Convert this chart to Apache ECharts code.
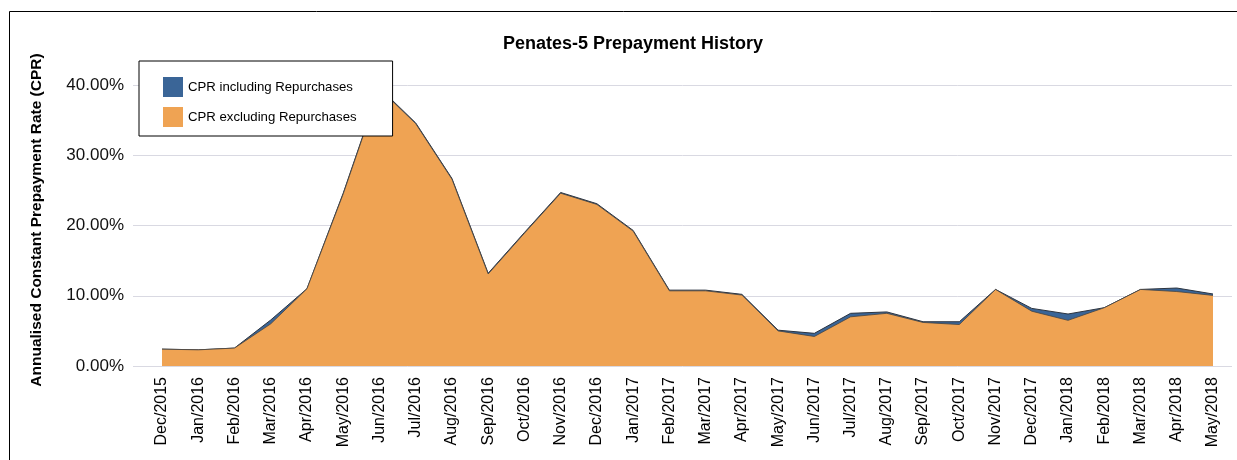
<!DOCTYPE html>
<html>
<head>
<meta charset="utf-8">
<script src="https://cdn.jsdelivr.net/npm/echarts@6/dist/echarts.min.js"></script>
<style>
html,body{margin:0;padding:0;background:#fff;}
#chart{width:1237px;height:460px;}
</style>
</head>
<body>
<div id="chart"></div>
<script>
const categories = ["Dec/2015","Jan/2016","Feb/2016","Mar/2016","Apr/2016","May/2016","Jun/2016","Jul/2016","Aug/2016","Sep/2016","Oct/2016","Nov/2016","Dec/2016","Jan/2017","Feb/2017","Mar/2017","Apr/2017","May/2017","Jun/2017","Jul/2017","Aug/2017","Sep/2017","Oct/2017","Nov/2017","Dec/2017","Jan/2018","Feb/2018","Mar/2018","Apr/2018","May/2018"];
const cprIncluding = [2.4,2.3,2.55,6.55,11.0,24.6,39.6,34.6,26.7,13.2,19.0,24.7,23.1,19.3,10.8,10.8,10.2,5.1,4.65,7.5,7.7,6.3,6.3,10.9,8.2,7.4,8.3,10.9,11.1,10.25];
const cprExcluding = [2.4,2.3,2.55,6.0,11.0,24.5,39.5,34.5,26.6,13.1,18.9,24.6,23.0,19.2,10.7,10.7,10.1,5.0,4.2,7.0,7.5,6.2,5.9,10.9,7.8,6.5,8.3,10.9,10.6,10.05];
const yTicks = [0,10,20,30,40];
const seriesNames = ["CPR including Repurchases","CPR excluding Repurchases"];

const FONT = "'Liberation Sans', Arial, sans-serif";
const BLUE = "#3a6597";
const ORANGE = "#efa353";
const OUTLINE = "#2c3440";

const chart = echarts.init(document.getElementById('chart'));
chart.setOption({
  animation: false,
  backgroundColor: '#fff',
  title: {
    text: 'Penates-5 Prepayment History',
    left: 628, top: 30, textAlign: 'center',
    textStyle: {fontFamily: FONT, fontSize: 18, fontWeight: 'bold', color: '#000'}
  },
  legend: {
    orient: 'vertical',
    left: 139, top: 61,
    padding: [16, 36, 9, 24],
    itemWidth: 20, itemHeight: 20, itemGap: 10,
    icon: 'rect',
    backgroundColor: '#fff',
    borderColor: '#000', borderWidth: 1,
    z: 10,
    textStyle: {fontFamily: FONT, fontSize: 13.2, color: '#000'},
    data: [
      {name: seriesNames[0], itemStyle: {color: BLUE, borderWidth: 0}},
      {name: seriesNames[1], itemStyle: {color: ORANGE, borderWidth: 0}}
    ]
  },
  graphic: [{
    type: 'rect', silent: true, z: 100,
    shape: {x: 9.5, y: 11.5, width: 1240, height: 470},
    style: {fill: 'none', stroke: '#000', lineWidth: 1}
  }],
  grid: [
    {left: 133, right: 5, top: 85, bottom: 94},
    {left: 162, right: 24, top: 85, bottom: 94}
  ],
  xAxis: [
    {gridIndex: 0, type: 'category', data: categories, show: false},
    {gridIndex: 1, type: 'category', data: categories, boundaryGap: false,
     axisLine: {show: false}, axisTick: {show: false},
     axisLabel: {interval: 0, rotate: 90, margin: 11, fontFamily: FONT, fontSize: 16, color: '#000'}}
  ],
  yAxis: [
    {gridIndex: 0, type: 'value', min: yTicks[0], max: yTicks[yTicks.length-1], interval: 10,
     axisLine: {show: false}, axisTick: {show: false},
     splitLine: {show: true, lineStyle: {color: '#d9d9e2', width: 1}},
     axisLabel: {margin: 9, fontFamily: FONT, fontSize: 17, color: '#111',
       formatter: v => v.toFixed(2) + '%'},
     name: 'Annualised Constant Prepayment Rate (CPR)',
     nameLocation: 'middle', nameGap: 88, nameRotate: 90,
     nameTextStyle: {fontFamily: FONT, fontSize: 15.5, fontWeight: 'bold', color: '#000', padding: [0, 0, 0, 11]}},
    {gridIndex: 1, type: 'value', min: yTicks[0], max: yTicks[yTicks.length-1], interval: 10, show: false,
     splitLine: {show: false}}
  ],
  series: [
    {name: seriesNames[0], type: 'line', xAxisIndex: 1, yAxisIndex: 1, data: cprIncluding,
     showSymbol: false, symbol: 'none', z: 2,
     itemStyle: {color: BLUE},
     lineStyle: {color: OUTLINE, width: 1},
     areaStyle: {color: BLUE, opacity: 1}},
    {name: seriesNames[1], type: 'line', xAxisIndex: 1, yAxisIndex: 1, data: cprExcluding,
     showSymbol: false, symbol: 'none', z: 3,
     itemStyle: {color: ORANGE},
     lineStyle: {color: '#444', width: 0.8},
     areaStyle: {color: ORANGE, opacity: 1}}
  ]
});
</script>
</body>
</html>
